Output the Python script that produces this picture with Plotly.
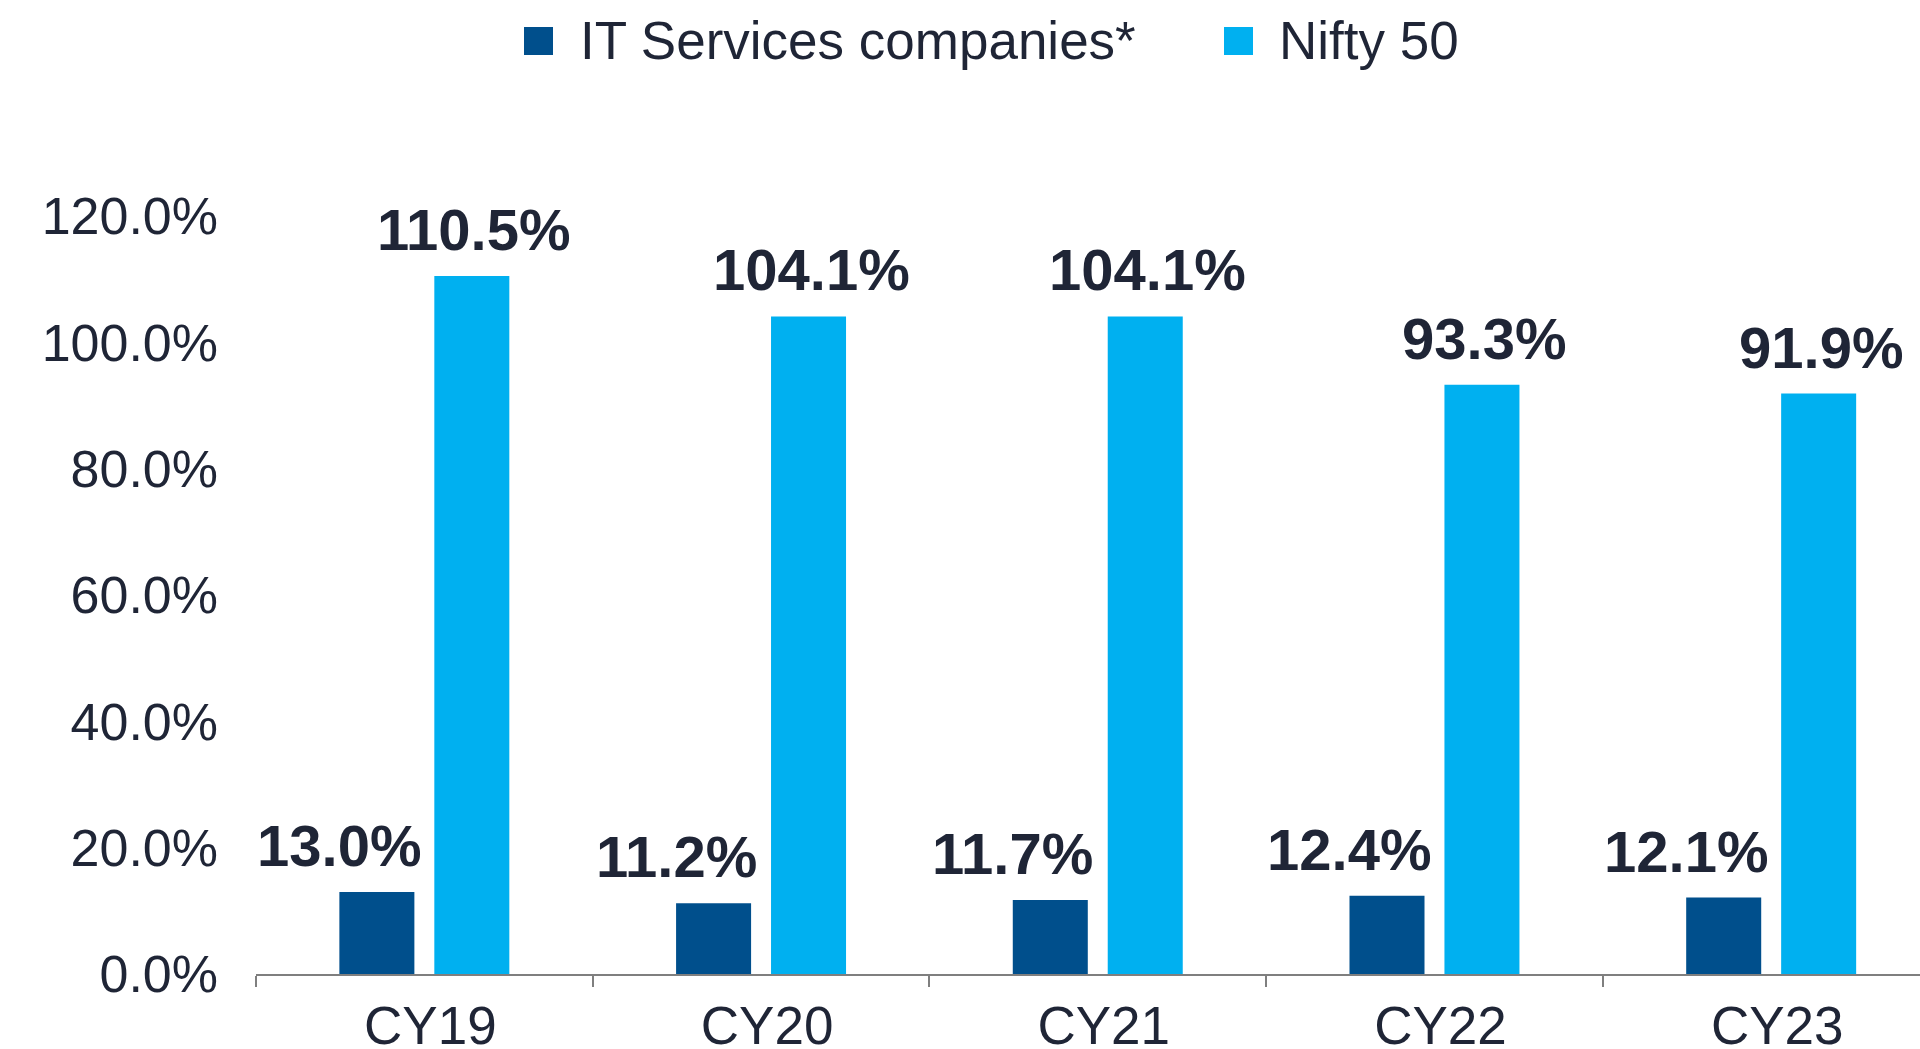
import plotly.graph_objects as go

categories = ["CY19", "CY20", "CY21", "CY22", "CY23"]
it_services = [13.0, 11.2, 11.7, 12.4, 12.1]
nifty50 = [110.5, 104.1, 104.1, 93.3, 91.9]
series_names = ["IT Services companies*", "Nifty 50"]

DARK = "#004F8C"
LIGHT = "#00B0F0"
TEXT = "#1F2536"
AXIS = "#7F7F7F"
FONT = "Arial, 'Liberation Sans', sans-serif"

W, H = 1920, 1049
L, R, T, B = 256, 0, 216, 75
PW, PH = W - L - R, H - T - B


def px_x(x):
    return (x - L) / PW


def px_y(y):
    return (H - B - y) / PH


fig = go.Figure()
fig.add_trace(go.Bar(x=categories, y=it_services, name=series_names[0],
                     marker=dict(color=DARK, line=dict(width=0)), showlegend=False))
fig.add_trace(go.Bar(x=categories, y=nifty50, name=series_names[1],
                     marker=dict(color=LIGHT, line=dict(width=0)), showlegend=False))

annotations = []
for c, v in zip(categories, it_services):
    annotations.append(dict(x=c, y=v, xref="x", yref="y", text=f"<b>{v:.1f}%</b>",
                            showarrow=False, xanchor="center", yanchor="bottom",
                            xshift=-85, yshift=12,
                            font=dict(family=FONT, size=58, color=TEXT)))
for c, v in zip(categories, nifty50):
    annotations.append(dict(x=c, y=v, xref="x", yref="y", text=f"<b>{v:.1f}%</b>",
                            showarrow=False, xanchor="center", yanchor="bottom",
                            xshift=50, yshift=12,
                            font=dict(family=FONT, size=58, color=TEXT)))

# legend (drawn manually for large square markers)
legend_items = [(524, 578, DARK, series_names[0]), (1224, 1277, LIGHT, series_names[1])]
shapes = []
for sx, tx, col, name in legend_items:
    shapes.append(dict(type="rect", xref="paper", yref="paper",
                       x0=px_x(sx), x1=px_x(sx + 29), y0=px_y(55), y1=px_y(27),
                       fillcolor=col, line=dict(width=0)))
    annotations.append(dict(x=px_x(tx), y=px_y(40), xref="paper", yref="paper",
                            text=name, showarrow=False, xanchor="left", yanchor="middle",
                            font=dict(family=FONT, size=53, color=TEXT)))

fig.update_layout(
    width=W, height=H,
    margin=dict(l=L, r=R, t=T, b=B, pad=0, autoexpand=False),
    paper_bgcolor="white", plot_bgcolor="white",
    barmode="group", bargap=0.436, bargroupgap=0.21,
    showlegend=False,
    annotations=annotations, shapes=shapes,
    font=dict(family=FONT, color=TEXT),
)
fig.update_xaxes(range=[-0.5, 4.442], showline=True, linecolor=AXIS, linewidth=2,
                 ticks="outside", tickson="boundaries", ticklen=11, tickwidth=2,
                 tickcolor=AXIS, showgrid=False, zeroline=False, automargin=False,
                 tickfont=dict(family=FONT, size=53, color=TEXT),
                 ticklabelstandoff=4, ticklabelshift=6)
fig.update_yaxes(range=[0, 120], dtick=20, tickformat=".1f", ticksuffix="%",
                 showline=False, showgrid=False, zeroline=False, ticks="", automargin=False,
                 tickfont=dict(family=FONT, size=52, color=TEXT), ticklabelstandoff=37)

fig.write_html("out.html", config={"displayModeBar": False},
               post_script="document.body.style.margin='0';document.body.style.overflow='hidden';")
